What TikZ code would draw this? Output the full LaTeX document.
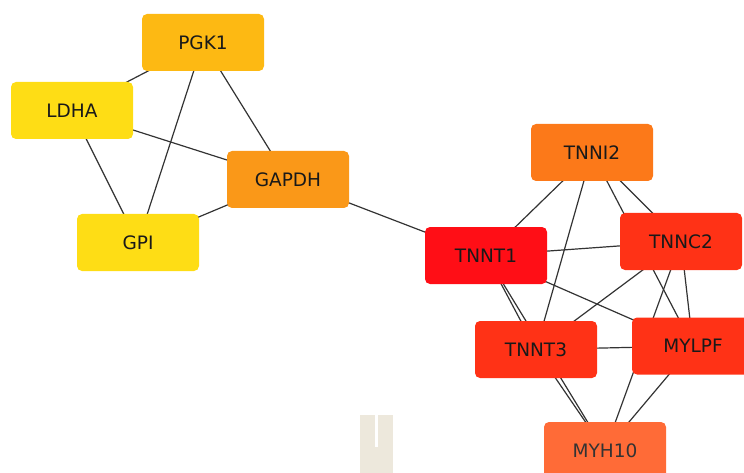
\documentclass[tikz,border=0pt]{standalone}
\usepackage{fontspec}
\setmainfont{DejaVu Sans}
\begin{document}
\begin{tikzpicture}[x=1pt,y=-1pt,
  gene/.style={rounded corners=5pt, minimum width=122pt, minimum height=57pt, inner sep=0pt,
    font=\fontsize{18.5}{22}\selectfont, text=black!90},
  edge/.style={draw=black!80, line width=1.2pt}]
\definecolor{cPGK}{RGB}{253,185,19}
\definecolor{cYel}{RGB}{254,221,21}
\definecolor{cGAP}{RGB}{250,152,24}
\definecolor{cTNI}{RGB}{252,121,25}
\definecolor{cTT1}{RGB}{255,14,22}
\definecolor{cRed}{RGB}{255,50,22}
\definecolor{cMYH}{RGB}{255,107,55}
\definecolor{cBeige}{RGB}{237,232,220}
\useasboundingbox (0,0) rectangle (744,473);
\clip (0,0) rectangle (744,473);
% beige artefact
\fill[cBeige] (360,415) rectangle (393,473);
\fill[white] (375,415) rectangle (378,447);
% edges (drawn first, under nodes)
\coordinate (pgk) at (203,42.5);
\coordinate (ldh) at (72,110.5);
\coordinate (gap) at (288,179.5);
\coordinate (gpi) at (138,242.5);
\coordinate (tni) at (592,152.5);
\coordinate (tt1) at (486,255.5);
\coordinate (tnc) at (681,241.5);
\coordinate (tt3) at (536,349.5);
\coordinate (myl) at (693,346);
\coordinate (myh) at (605,450.5);
\foreach \a/\b in {pgk/ldh,pgk/gpi,pgk/gap,ldh/gap,ldh/gpi,gap/gpi,gap/tt1,
  tni/tt1,tni/tt3,tni/tnc,tni/myl,tt1/tnc,tt1/tt3,tt1/myh,tt1/myl,
  tnc/tt3,tnc/myl,tnc/myh,tt3/myl,tt3/myh,myl/myh}
  \draw[edge] (\a) -- (\b);
% nodes
\node[gene, fill=cPGK] (PGK1) at (pgk) {PGK1};
\node[gene, fill=cYel] (LDHA) at (ldh) {LDHA};
\node[gene, fill=cGAP] (GAPDH) at (gap) {GAPDH};
\node[gene, fill=cYel] (GPI) at (gpi) {GPI};
\node[gene, fill=cTNI] (TNNI2) at (tni) {TNNI2};
\node[gene, fill=cTT1] (TNNT1) at (tt1) {TNNT1};
\node[gene, fill=cRed] (TNNC2) at (tnc) {TNNC2};
\node[gene, fill=cRed] (TNNT3) at (tt3) {TNNT3};
\node[gene, fill=cRed] (MYLPF) at (myl) {MYLPF};
\node[gene, fill=cMYH, text=black!80] (MYH10) at (myh) {MYH10};
\end{tikzpicture}
\end{document}
